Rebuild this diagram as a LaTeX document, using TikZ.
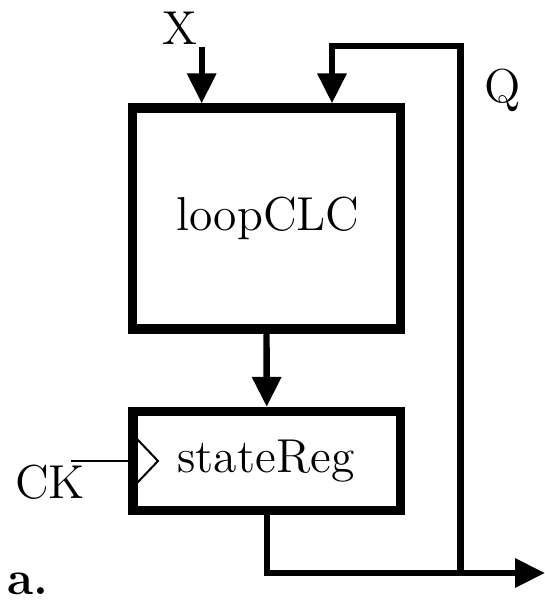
\documentclass[tikz,border=0pt]{standalone}
\usetikzlibrary{arrows.meta,calc}
\begin{document}
\begin{tikzpicture}[x=0.25pt,y=-0.25pt,
  every node/.style={font=\fontsize{11.9}{14}\selectfont, inner sep=0pt},
  block/.style={draw, line width=2.3pt, rectangle, outer sep=1.15pt},
  wire/.style={line width=1.6pt},
  thin/.style={line width=0.5pt},
  tip/.style={-{Triangle[length=7.5pt,width=7pt]}}]
\useasboundingbox (0,0) rectangle (545,600);
\node[block, minimum width=67pt, minimum height=55.25pt] (loop) at (266.5,218.5) {};
\node (looptxt) at (268,218) {loopCLC};
\node[block, minimum width=66.9pt, minimum height=24.75pt] (reg) at (266.75,461) {};
\node (regtxt) at (266,461) {stateReg};
\node (X) at (180,28) {X};
\node (Q) at (503,90) {Q};
\node (CK) at (50,482) {CK};
\node (a) at (28,584) {\bfseries a.};
\coordinate (xin) at (201.7,47);
\coordinate (fbtop) at (332,46);
\coordinate (j) at (460.5,573);
\coordinate (out) at (545,573);
\coordinate (ckin) at (71,460.6);
\coordinate (t1) at (137,439);
\coordinate (t2) at (158,461);
\coordinate (t3) at (137,483);
\draw[wire,tip] (xin) -- (xin |- loop.north);
\draw[wire,tip] (loop.south) -- (reg.north);
\draw[wire,tip] (reg.south) |- (out);
\draw[wire,tip,line join=miter] (j) |- (fbtop) -- (fbtop |- loop.north);
\draw[thin] (ckin) -- (ckin -| reg.west);
\draw[thin] (t1) -- (t2) -- (t3);
\end{tikzpicture}
\end{document}
